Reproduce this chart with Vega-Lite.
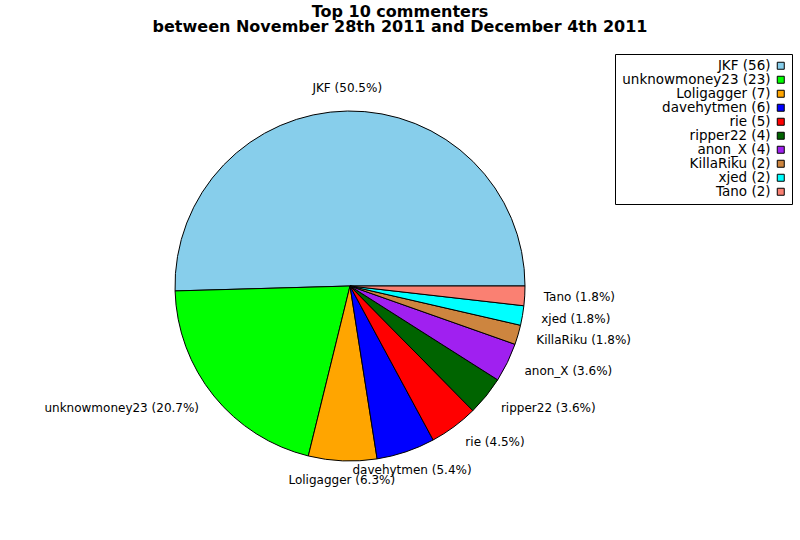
{
  "$schema": "https://vega.github.io/schema/vega-lite/v6.json",
  "width": 700,
  "height": 508,
  "autosize": {"type": "none"},
  "padding": {"left": 0, "top": 32, "right": 100, "bottom": 0},
  "background": "white",
  "title": {
    "text": ["Top 10 commenters", "between November 28th 2011 and December 4th 2011"],
    "anchor": "middle",
    "dx": 50,
    "offset": -3,
    "font": "DejaVu Sans",
    "fontSize": 16,
    "fontWeight": "bold",
    "lineHeight": 15,
    "color": "black"
  },
  "data": {
    "values": [
      {"rank": 1, "name": "JKF", "count": 56, "legend": "JKF (56)", "label": "JKF (50.5%)"},
      {"rank": 2, "name": "unknowmoney23", "count": 23, "legend": "unknowmoney23 (23)", "label": "unknowmoney23 (20.7%)"},
      {"rank": 3, "name": "Loligagger", "count": 7, "legend": "Loligagger (7)", "label": "Loligagger (6.3%)"},
      {"rank": 4, "name": "davehytmen", "count": 6, "legend": "davehytmen (6)", "label": "davehytmen (5.4%)"},
      {"rank": 5, "name": "rie", "count": 5, "legend": "rie (5)", "label": "rie (4.5%)"},
      {"rank": 6, "name": "ripper22", "count": 4, "legend": "ripper22 (4)", "label": "ripper22 (3.6%)"},
      {"rank": 7, "name": "anon_X", "count": 4, "legend": "anon_X (4)", "label": "anon_X (3.6%)"},
      {"rank": 8, "name": "KillaRiku", "count": 2, "legend": "KillaRiku (2)", "label": "KillaRiku (1.8%)"},
      {"rank": 9, "name": "xjed", "count": 2, "legend": "xjed (2)", "label": "xjed (1.8%)"},
      {"rank": 10, "name": "Tano", "count": 2, "legend": "Tano (2)", "label": "Tano (1.8%)"}
    ]
  },
  "encoding": {
    "theta": {
      "field": "count",
      "type": "quantitative",
      "stack": true,
      "scale": {"range": [1.5708, -4.7124]}
    },
    "order": {"field": "rank", "type": "quantitative"}
  },
  "layer": [
    {
      "mark": {"type": "arc", "radius": 175, "stroke": "black", "strokeWidth": 1},
      "encoding": {
        "color": {
          "field": "legend",
          "type": "nominal",
          "sort": null,
          "title": "unknowmoney23 (23)",
          "scale": {
            "range": ["#87ceeb", "#00ff00", "#ffa500", "#0000ff", "#ff0000", "#006400", "#a020f0", "#cd853f", "#00ffff", "#fa8072"]
          },
          "legend": {
            "orient": "none",
            "legendX": 615,
            "legendY": 22,
            "columns": 1,
            "titleOrient": "left",
            "titleAngle": 0,
            "titleAlign": "left",
            "titleBaseline": "top",
            "titleFont": "DejaVu Sans",
            "titleFontSize": 13.5,
            "titleFontWeight": "normal",
            "titlePadding": 5,
            "titleOpacity": 0,
            "symbolType": "square",
            "symbolSize": 49,
            "symbolStrokeColor": "black",
            "symbolStrokeWidth": 1,
            "symbolOpacity": 1,
            "labelAlign": "right",
            "labelOffset": -17,
            "labelFont": "DejaVu Sans",
            "labelFontSize": 13.5,
            "labelColor": "black",
            "labelLimit": 300,
            "rowPadding": -3,
            "padding": 5,
            "strokeColor": "black",
            "fillColor": "white"
          }
        }
      }
    },
    {
      "mark": {
        "type": "text",
        "radius": 194,
        "font": "DejaVu Sans",
        "fontSize": 12,
        "color": "black",
        "baseline": "middle",
        "align": {"expr": "datum.name == 'unknowmoney23' ? 'right' : (datum.rank == 1 || datum.rank == 3 || datum.rank == 4) ? 'center' : 'left'"},
        "dy": {"expr": "datum.rank == 1 ? -4 : 0"}
      },
      "encoding": {
        "text": {"field": "label"}
      }
    }
  ],
  "config": {
    "view": {"stroke": null}
  }
}
